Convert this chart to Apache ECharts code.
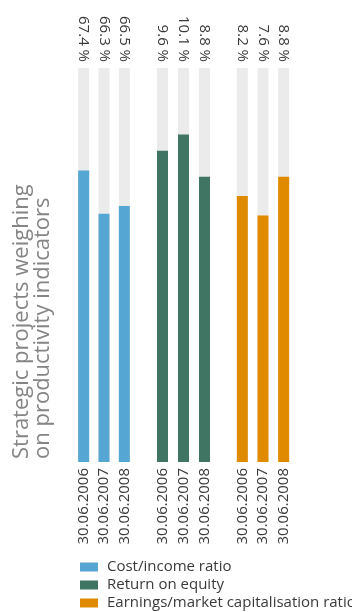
<!DOCTYPE html>
<html>
<head>
<meta charset="utf-8">
<script src="https://cdn.jsdelivr.net/npm/echarts@6/dist/echarts.min.js"></script>
<style>html,body{margin:0;padding:0;background:#fff}#c{width:352px;height:612px}</style>
</head>
<body>
<div id="c"></div>
<script>
const dates = ['30.06.2006', '30.06.2007', '30.06.2008'];
const costIncome = [67.4, 66.3, 66.5];
const returnOnEquity = [9.6, 10.1, 8.8];
const earningsCap = [8.2, 7.6, 8.8];
const seriesNames = ['Cost/income ratio', 'Return on equity', 'Earnings/market capitalisation ratio'];
const titleText = 'Strategic projects weighing\non productivity indicators';

const FONT = '"Open Sans", "Noto Sans", sans-serif';
const colors = ['#55a6d3', '#407563', '#e08a00'];
const groups = [costIncome, returnOnEquity, earningsCap];
const gridDefs = [
  {left: 73.5, width: 61},
  {left: 152, width: 63},
  {left: 232, width: 62}
];
const yRanges = [[60, 70], [0, 12.15], [0, 12.15]];

const grid = [], xAxis = [], yAxis = [], series = [];
groups.forEach((vals, i) => {
  grid.push({left: gridDefs[i].left, width: gridDefs[i].width, top: 68, height: 394});
  xAxis.push({
    type: 'category', gridIndex: i, position: 'bottom', data: dates,
    axisLine: {show: false}, axisTick: {show: false},
    axisLabel: {rotate: 90, margin: 6, fontSize: 15, color: '#3a3a3a', fontFamily: FONT, interval: 0}
  });
  xAxis.push({
    type: 'category', gridIndex: i, position: 'top', data: vals.map(v => v.toFixed(1) + ' %'),
    axisLine: {show: false}, axisTick: {show: false},
    axisLabel: {rotate: 90, margin: 6, fontSize: 15, color: '#3a3a3a', fontFamily: FONT, interval: 0}
  });
  yAxis.push({type: 'value', gridIndex: i, min: yRanges[i][0], max: yRanges[i][1], show: false});
  series.push({
    type: 'bar', name: seriesNames[i], xAxisIndex: i * 2, yAxisIndex: i,
    data: vals, barWidth: 11, itemStyle: {color: colors[i]},
    showBackground: true, backgroundStyle: {color: '#ebebeb'},
    silent: true, animation: false
  });
});

const chart = echarts.init(document.getElementById('c'), null, {renderer: 'canvas'});
chart.setOption({
  animation: false,
  grid, xAxis, yAxis, series,
  legend: {
    orient: 'vertical', left: 80, top: 558, height: 70, width: 280, padding: 0,
    itemWidth: 18, itemHeight: 9, itemGap: 0, icon: 'rect',
    data: seriesNames,
    textStyle: {fontSize: 15, lineHeight: 18, color: '#3a3a3a', fontFamily: FONT, padding: [0, 0, 0, 4]}
  },
  graphic: [{
    type: 'text', x: 32, y: 459, rotation: Math.PI / 2,
    style: {text: titleText, fontSize: 22, lineHeight: 21, fill: '#858585', fontFamily: FONT,
      align: 'left', verticalAlign: 'middle'}
  }]
});
</script>
</body>
</html>
